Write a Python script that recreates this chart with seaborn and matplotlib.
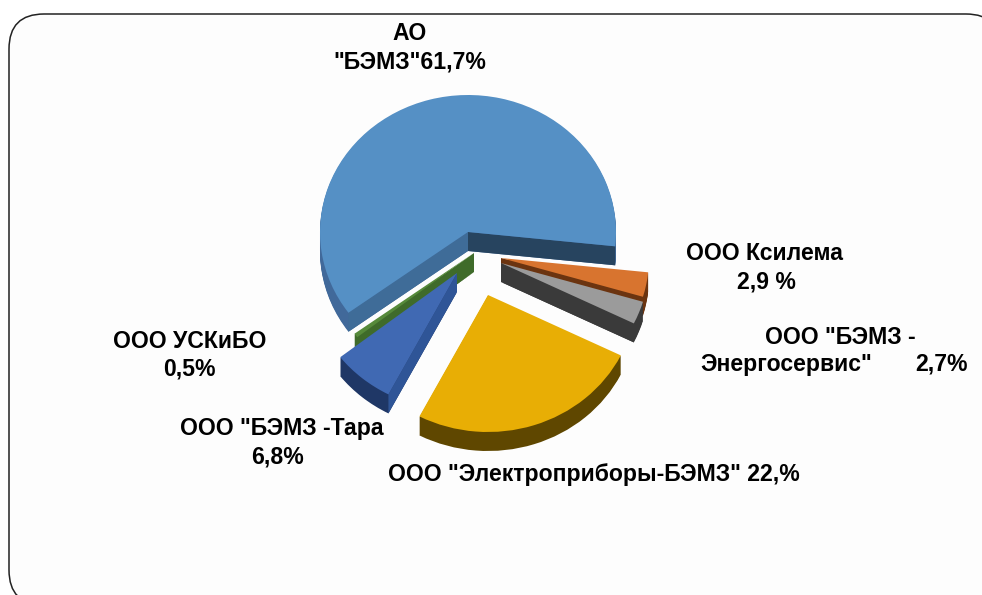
import numpy as np
import matplotlib
matplotlib.use("Agg")
import matplotlib.pyplot as plt
from matplotlib.patches import FancyBboxPatch
import seaborn as sns

# slices, counter clockwise from the right cut of the big one
companies = ['АО "БЭМЗ"', 'ООО УСКиБО', 'ООО "БЭМЗ -Тара', 'ООО "Электроприборы-БЭМЗ"',
             'ООО "БЭМЗ -Энергосервис"', 'ООО Ксилема']
shares = [61.7, 0.5, 6.8, 25.4, 2.7, 2.9]

top_colors = sns.color_palette(["#5590c5", "#568a3a", "#4069b3", "#e8ae05", "#9b9b9b", "#d8742f"])
rim_colors = sns.color_palette(["#41699a", "#3f6b2a", "#1f3766", "#5f4700", "#3a3a3a", "#6b3410"])
cut_start = ["#27445f", None, None, None, "#3a3a3a", "#6b3410"]
cut_end = ["#3f6c98", "#3f6b2a", "#2f5597", None, None, None]

# px shift of every slice from the pie centre, and paint order
shift_px = [(0, 0), (6, 21), (-11, 41), (20, 63), (33, 31), (33, 26)]
paint_order = [0, 5, 4, 1, 2, 3]

labels = [
    ("АО", 410, 34, "center"),
    ('"БЭМЗ"61,7%', 410, 62, "center"),
    ("ООО Ксилема", 765, 253, "center"),
    ("2,9 %", 766, 282, "center"),
    ('ООО "БЭМЗ -', 840, 337, "center"),
    ('Энергосервис"', 700, 364, "left"),
    ("2,7%", 968, 364, "right"),
    ("ООО УСКиБО", 190, 341, "center"),
    ("0,5%", 189, 369, "center"),
    ('ООО "БЭМЗ -Тара', 282, 429, "center"),
    ("6,8%", 278, 457, "center"),
    ('ООО "Электроприборы-БЭМЗ" 22,%', 594, 475, "center"),
]

W, H = 982, 595
cx, cy, rx, ry = 468, 232, 148, 137
depth = 19
start = -6

sns.set_theme(style="white")
plt.rcParams["font.family"] = ["Liberation Sans", "DejaVu Sans"]

fig = plt.figure(figsize=(W / 100, H / 100), dpi=100, facecolor="white")

# background axes in pixels: frame and texts
bg = fig.add_axes([0, 0, 1, 1])
bg.set_xlim(0, W)
bg.set_ylim(H, 0)
bg.axis("off")
bg.add_patch(FancyBboxPatch((9, 14), 992, 591, boxstyle="round,pad=0,rounding_size=35",
                            fc="#fdfdfd", ec="#222222", lw=1.1))

ax = fig.add_axes([0, 0, 1, 1])
ax.patch.set_alpha(0)


def layer(colors, dy, base):
    wedges, _ = ax.pie(shares, colors=colors, startangle=start, counterclock=True,
                       wedgeprops={"linewidth": 0})
    for i, w in enumerate(wedges):
        w.set_center((shift_px[i][0] / rx, -(shift_px[i][1] + dy) / ry))
        w.set_zorder(10 * paint_order.index(i) + base)
        w.set_antialiased(True)
    return wedges


for d in range(depth, 0, -1):
    layer(rim_colors, d, 1)
tops = layer(top_colors, 0, 5)

# flat faces of the cuts
d_y = depth / ry
for i, w in enumerate(tops):
    x0, y0 = w.center
    for theta, col in ((w.theta1, cut_start[i]), (w.theta2, cut_end[i])):
        if col is None:
            continue
        ex = x0 + np.cos(np.radians(theta))
        ey = y0 + np.sin(np.radians(theta))
        ax.fill([x0, ex, ex, x0], [y0, ey, ey - d_y, y0 - d_y], color=col, lw=0,
                zorder=10 * paint_order.index(i) + 3)

ax.set_aspect("auto")
ax.set_xlim(-cx / rx, (W - cx) / rx)
ax.set_ylim((cy - H) / ry, cy / ry)
ax.axis("off")

for txt, x, y, ha in labels:
    bg.text(x, y, txt, ha=ha, va="center", fontsize=16.6, fontweight="bold", color="black")

fig.savefig("out.png", dpi=100)
